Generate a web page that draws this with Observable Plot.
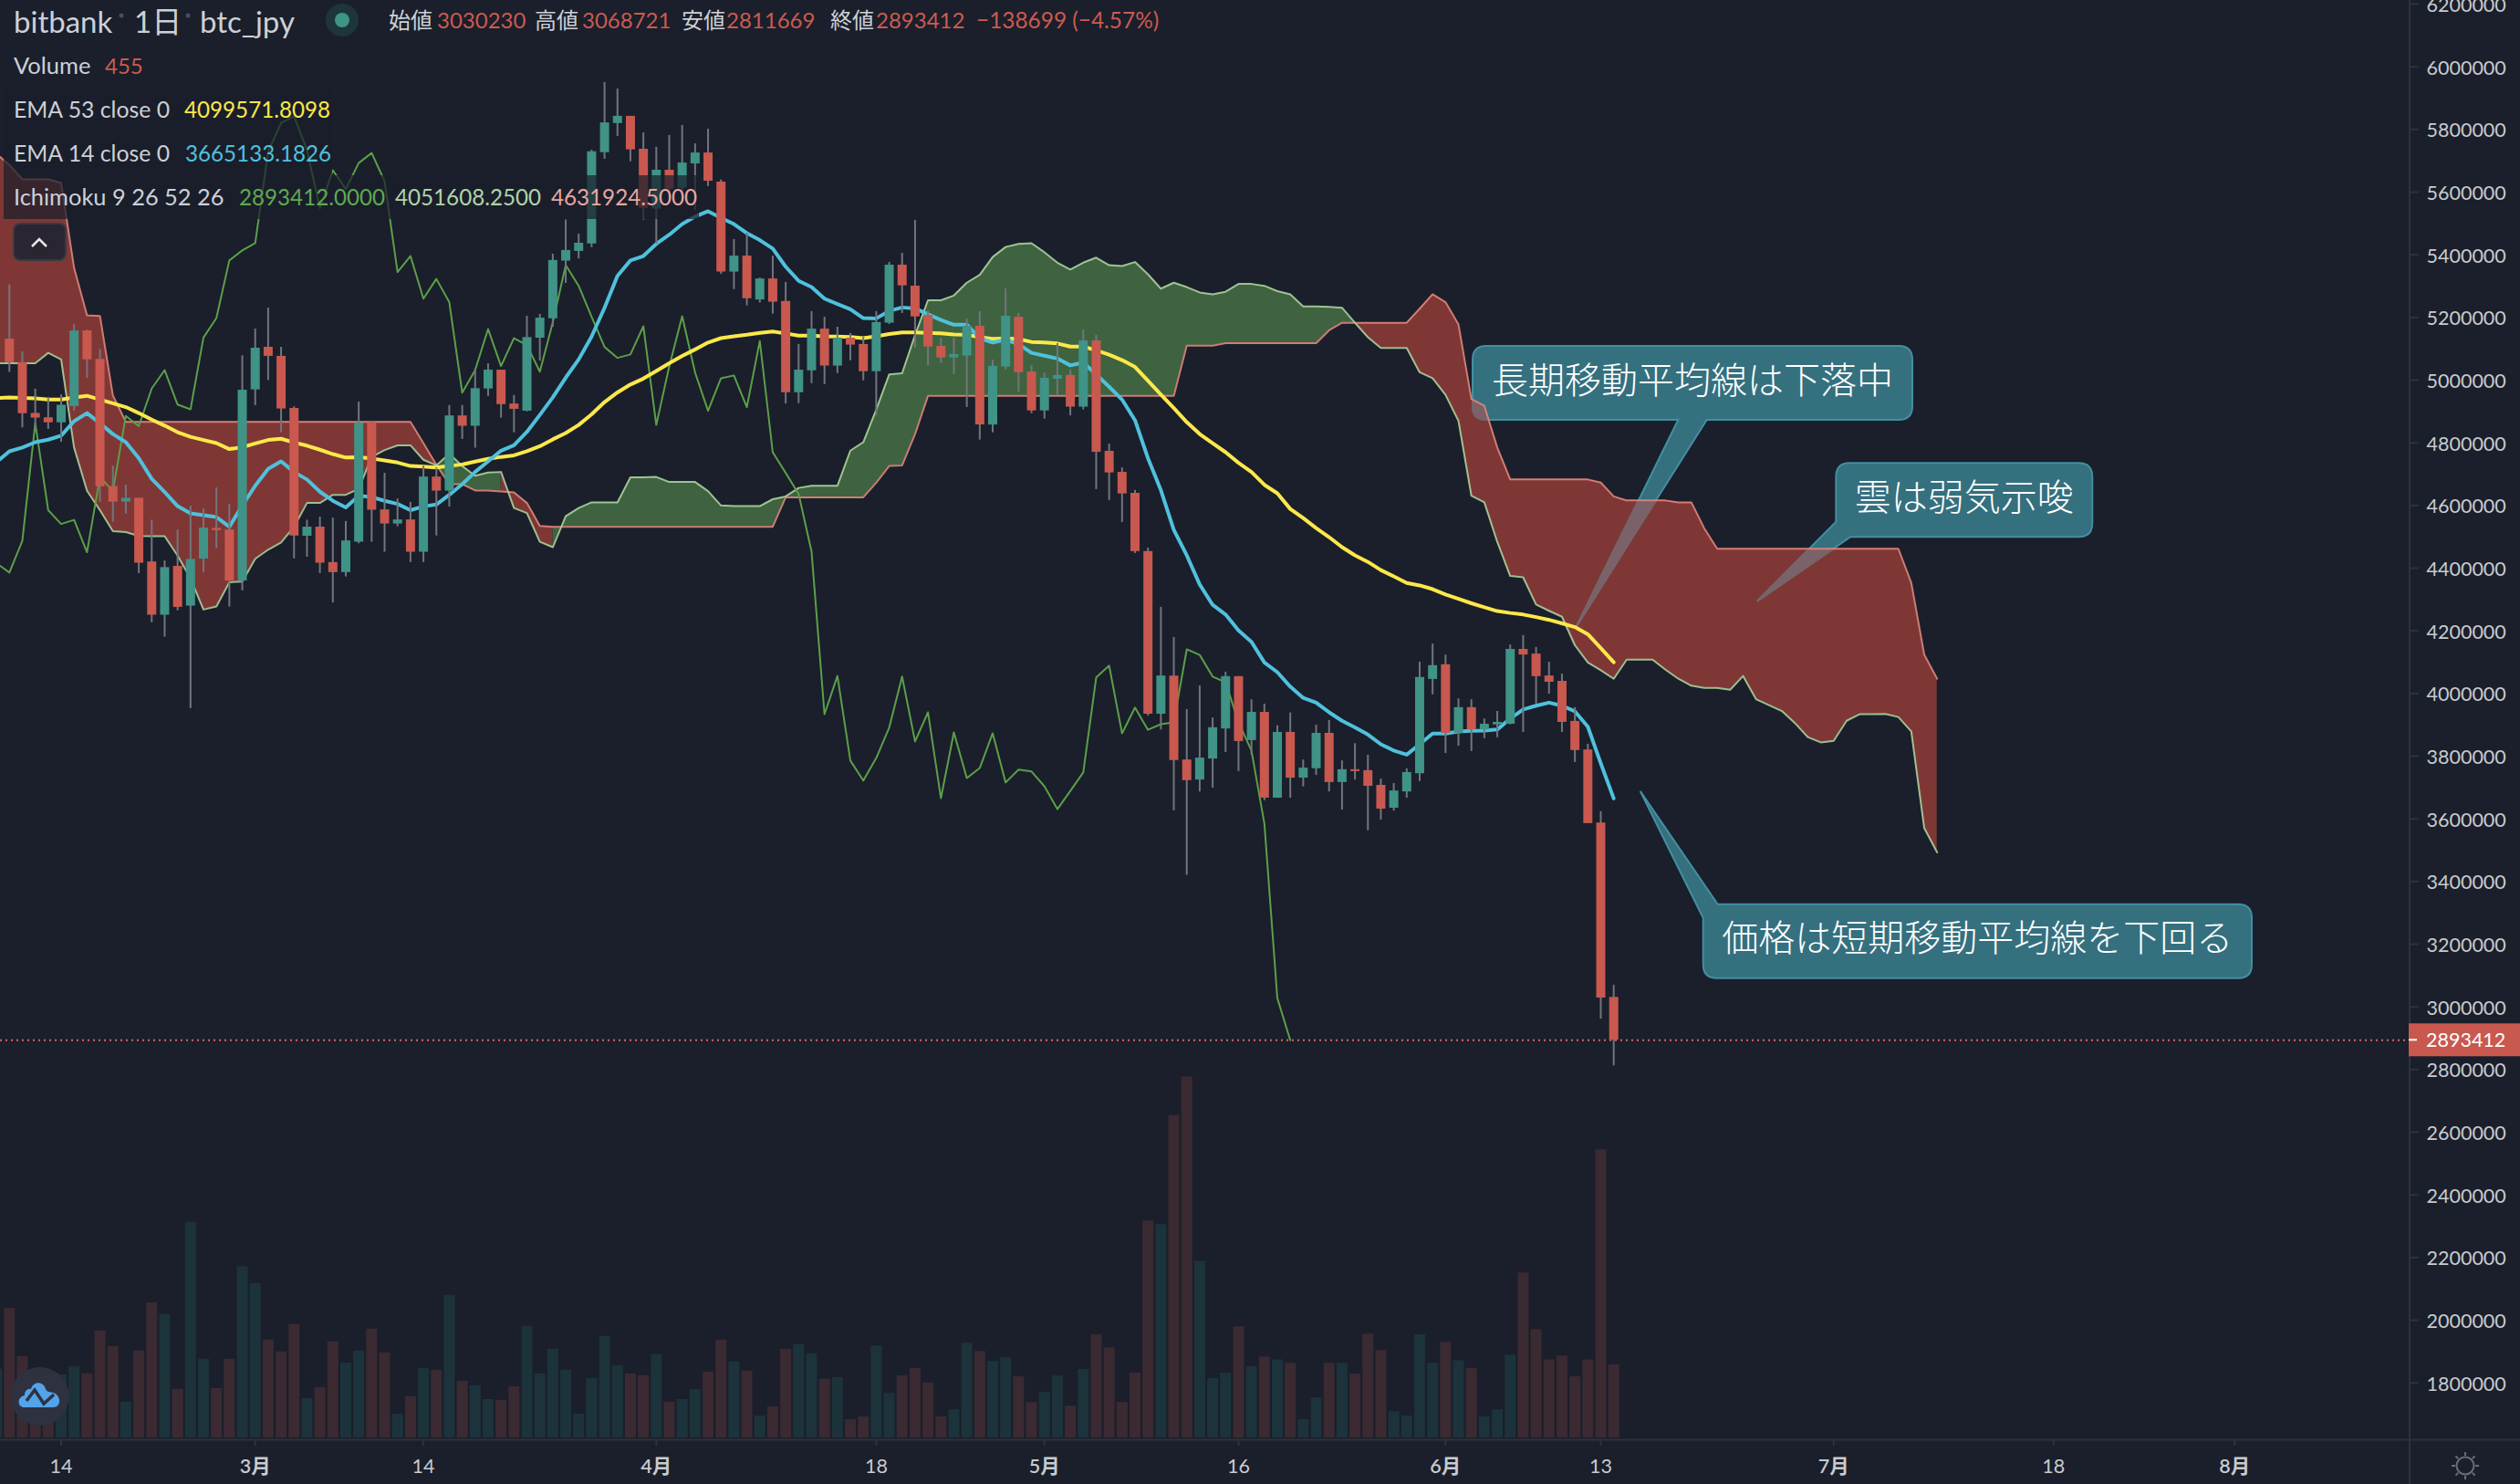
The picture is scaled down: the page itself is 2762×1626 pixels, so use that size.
<!DOCTYPE html>
<html lang="ja">
<head>
<meta charset="utf-8">
<title>bitbank btc_jpy</title>
<script src="https://cdn.jsdelivr.net/npm/d3@7"></script>
<script src="https://cdn.jsdelivr.net/npm/@observablehq/plot@0.6"></script>
<style>
html,body{margin:0;padding:0;background:#1a1f2b;}
#chart{position:relative;width:2762px;height:1626px;overflow:hidden;background:#1a1f2b;font-family:Lato,"Noto Sans CJK JP",sans-serif;}
#chart svg{position:absolute;left:0;top:0;}
.lg{position:absolute;white-space:pre;line-height:1;transform:translateY(-50%);}
.dim{position:absolute;background:rgba(26,31,43,.72);}
</style>
</head>
<body>
<div id="chart"></div>
<script>
// All prices are in thousands of JPY. Daily bars, the first one is 2022-02-10.
const open = [
5131,5056,4894,4880,4864,4916,5157,5066,4661,4611,
4623,4420,4250,4406,4279,4429,4527,4522,4359,4969,
5105,5076,4910,4502,4531,4418,4386,4483,4865,4586,
4541,4554,4451,4691,4646,4886,4853,4972,5032,4924,
4901,5134,5196,5380,5411,5435,5726,5819,5842,5737,
5546,5670,5613,5690,5725,5632,5345,5396,5256,5323,
5251,4960,5030,5163,5045,5134,5114,5027,5182,5367,
5300,5207,5108,5071,5077,5172,4857,5042,5201,5026,
4902,5003,5015,4914,5125,4773,4706,4639,4453,3934,
4056,3788,3724,3791,3887,4054,3850,3940,3666,3876,
3730,3760,3873,3716,3757,3754,3707,3634,3686,3744,
4045,4092,3873,3955,3884,3900,3902,4141,4126,4056,
4039,3911,3820,3587,3030.23];
const high = [
5304,5090,4971,4945,4953,5177,5160,5098,4726,4665,
4623,4553,4423,4522,4598,4589,4656,4604,5078,5163,
5230,5105,4915,4553,4563,4560,4549,4930,4869,4703,
4621,4610,4726,4720,4919,4919,5037,5052,5032,4951,
5204,5210,5402,5511,5466,5734,5950,5929,5842,5789,
5743,5781,5813,5754,5801,5639,5449,5469,5326,5396,
5312,5114,5219,5201,5169,5149,5137,5219,5376,5405,
5510,5221,5134,5134,5195,5219,5064,5291,5213,5047,
5023,5117,5032,5160,5143,4796,4720,4648,4464,4275,
4179,3949,4024,3922,4068,4054,3980,3966,3897,3938,
3788,3899,3914,3785,3840,3803,3727,3713,3760,4100,
4158,4123,3983,3980,3919,3943,4155,4185,4147,4100,
4062,3955,3838,3623,3068.721];
const low = [
5025,4848,4843,4843,4802,4901,5006,4610,4547,4573,
4383,4226,4180,4264,3952,4386,4462,4276,4328,4919,
4999,4832,4430,4435,4383,4289,4372,4478,4483,4451,
4532,4418,4418,4503,4595,4811,4783,4948,4879,4832,
4899,5061,5169,5309,5387,5423,5705,5778,5697,5511,
5435,5585,5591,5542,5618,5338,5289,5237,5246,5211,
4924,4925,4989,4986,5021,5062,4998,4887,5178,5213,
5103,5045,5053,5018,4913,4809,4832,5033,4962,4893,
4876,4951,4886,4905,4651,4616,4546,4447,3928,3884,
3626,3420,3686,3698,3812,3751,3803,3658,3666,3666,
3702,3739,3686,3628,3724,3562,3596,3625,3666,3719,
3996,3809,3832,3815,3856,3859,3900,3876,3966,3998,
3876,3780,3585,2961,2811.669];
const close = [
5056,4893,4879,4864,4920,5157,5065,4660,4611,4623,
4416,4250,4402,4275,4428,4528,4520,4359,4968,5102,
5076,4908,4503,4531,4416,4386,4487,4863,4585,4541,
4554,4451,4691,4646,4886,4853,4973,5032,4922,4907,
5136,5198,5382,5414,5437,5729,5821,5842,5735,5549,
5670,5610,5693,5725,5635,5345,5396,5260,5323,5249,
4960,5032,5163,5045,5134,5112,5027,5184,5367,5301,
5202,5106,5071,5082,5172,4857,5044,5204,5024,4902,
5006,5015,4914,5125,4770,4704,4637,4453,3934,4056,
3786,3722,3794,3891,4054,3847,3940,3666,3876,3730,
3762,3873,3716,3757,3751,3704,3631,3689,3748,4051,
4089,3873,3955,3884,3902,3908,4141,4123,4054,4036,
3908,3818,3585,3028,2893.412];
// The series below start one day earlier, at the left edge of the chart (2022-02-09).
const ema53 = [4943,
4945,4943,4942,4938,4938,4945,4950,4938,4926,4914,
4895,4874,4855,4834,4819,4809,4799,4780,4786,4798,
4809,4813,4801,4791,4778,4764,4753,4754,4750,4744,
4737,4726,4724,4721,4726,4731,4740,4749,4755,4760,
4773,4789,4811,4831,4857,4891,4930,4961,4986,5005,
5029,5054,5077,5098,5120,5134,5140,5145,5151,5155,
5149,5142,5142,5140,5139,5138,5134,5140,5147,5152,
5152,5151,5149,5146,5145,5137,5132,5133,5131,5122,
5120,5117,5107,5107,5095,5081,5064,5042,4998,4954,
4911,4866,4828,4799,4770,4736,4707,4666,4639,4589,
4560,4528,4499,4467,4441,4420,4394,4374,4353,4345,
4333,4316,4302,4288,4275,4263,4257,4252,4244,4235,
4224,4212,4189,4145,4099.57];
const ema14 = [4738,
4773,4785,4802,4810,4823,4869,4895,4862,4828,4802,
4751,4685,4643,4598,4575,4569,4563,4532,4600,4663,
4717,4741,4707,4683,4644,4615,4594,4631,4627,4615,
4605,4585,4597,4603,4634,4668,4707,4741,4775,4792,
4835,4889,4945,5008,5066,5139,5231,5333,5382,5396,
5435,5464,5498,5522,5539,5518,5498,5469,5447,5420,
5362,5317,5297,5260,5243,5226,5198,5197,5221,5232,
5229,5210,5192,5177,5177,5134,5120,5129,5115,5087,
5078,5069,5047,5056,5018,4979,4938,4872,4751,4649,
4522,4441,4348,4283,4252,4201,4165,4099,4068,4022,
3986,3971,3940,3913,3892,3869,3838,3818,3805,3838,
3872,3872,3879,3881,3882,3885,3920,3949,3961,3971,
3961,3943,3894,3777,3665.13];
const lagging = [4416,
4386,4487,4863,4585,4541,4554,4451,4691,4646,4886,
4853,4973,5032,4922,4907,5136,5198,5382,5414,5437,
5729,5821,5842,5735,5549,5670,5610,5693,5725,5635,
5345,5396,5260,5323,5249,4960,5032,5163,5045,5134,
5112,5027,5184,5367,5301,5202,5106,5071,5082,5172,
4857,5044,5204,5024,4902,5006,5015,4914,5125,4770,
4704,4637,4453,3934,4056,3786,3722,3794,3891,4054,
3847,3940,3666,3876,3730,3762,3873,3716,3757,3751,
3704,3631,3689,3748,4051,4089,3873,3955,3884,3902,
3908,4141,4123,4054,4036,3908,3818,3585,3028,2893.412];
const spanA = [5054,
5054,5054,5054,5087,5066,4785,4647,4585,4518,4515,
4503,4502,4502,4440,4367,4268,4278,4355,4357,4430,
4459,4482,4532,4608,4608,4634,4634,4653,4755,4777,
4792,4792,4746,4728,4765,4726,4695,4705,4707,4592,
4576,4484,4467,4566,4592,4610,4610,4610,4690,4690,
4691,4675,4675,4675,4646,4600,4598,4598,4598,4620,
4629,4656,4663,4663,4663,4775,4802,4906,5018,5022,
5144,5255,5255,5270,5311,5336,5393,5425,5435,5437,
5408,5375,5353,5375,5391,5367,5364,5377,5338,5292,
5311,5297,5280,5274,5282,5307,5307,5301,5284,5274,
5235,5235,5234,5231,5183,5137,5103,5103,5103,5025,
5006,4953,4870,4631,4610,4484,4375,4371,4284,4264,
4245,4154,4099,4074,4047,4108,4108,4108,4076,4047,
4025,4018,4018,4012,4056,3982,3963,3944,3906,3861,
3844,3849,3913,3934,3934,3935,3925,3879,3571,3493];
const spanB = [5722,
5687,5641,5641,5641,5629,5358,5207,5205,4951,4867,
4867,4867,4867,4867,4867,4867,4867,4867,4867,4867,
4867,4867,4867,4867,4867,4867,4867,4867,4867,4867,
4867,4867,4799,4730,4668,4668,4648,4648,4645,4642,
4608,4535,4532,4532,4532,4532,4532,4532,4532,4532,
4532,4532,4532,4532,4532,4532,4532,4532,4532,4532,
4626,4626,4626,4626,4626,4626,4626,4673,4726,4728,
4828,4950,4950,4950,4950,4950,4950,4950,4950,4950,
4950,4950,4950,4950,4950,4950,4950,4950,4950,4950,
4950,5110,5110,5110,5118,5118,5118,5118,5118,5118,
5118,5118,5159,5183,5183,5183,5183,5183,5183,5228,
5274,5249,5178,4940,4918,4785,4683,4683,4683,4683,
4683,4683,4683,4673,4629,4616,4616,4616,4616,4610,
4610,4527,4462,4462,4462,4462,4462,4462,4462,4462,
4462,4462,4462,4462,4462,4462,4462,4353,4124,4047];
const volume = [428,
808,507,266,266,393,445,399,667,570,222,
542,842,770,302,1343,490,308,490,1066,963,
610,536,707,245,314,599,467,542,678,530,
148,257,433,422,889,353,325,239,234,319,
695,399,553,422,148,370,633,450,399,388,
519,222,239,302,410,610,473,416,137,194,
553,581,524,365,375,114,131,573,278,387,
432,341,131,175,590,539,476,499,381,221,
284,387,198,426,642,562,221,404,1352,1329,
2009,2249,1101,369,404,693,444,505,487,465,
114,249,465,465,398,647,545,164,137,642,
465,596,482,432,131,175,516,1028,676,487,
510,381,487,1794,455];
const priceTicks = [1800,2000,2200,2400,2600,2800,3000,3200,3400,3600,3800,4000,4200,4400,4600,4800,5000,5200,5400,5600,5800,6000,6200];
const dayTicks = ["2022-02-14","2022-03-14","2022-04-18","2022-05-16","2022-06-13","2022-07-18"];
const monthTicks = ["2022-03-01","2022-04-01","2022-05-01","2022-06-01","2022-07-01","2022-08-01"];
const lastPrice = 2893.412;
const lastPriceLabel = "2893412";
const callouts = [
  {text:"長期移動平均線は下落中", tipDate:"2022-06-11T04:00Z", tipPrice:4214},
  {text:"雲は弱気示唆", tipDate:"2022-06-25T03:00Z", tipPrice:4293},
  {text:"価格は短期移動平均線を下回る", tipDate:"2022-06-16T02:00Z", tipPrice:3687}
];

// ---- styles and layout ----
const W = 2762, H = 1626, AXW = 121, AXH = 49;
const BG = "#1a1f2b", UP = "#3f9387", DOWN = "#c9584f", UPV = "#1c333b", DOWNV = "#3b2a32";
const GRID = "#2e323e", TEXT = "#c8cacf";
const FONT = 'Lato,"Noto Sans CJK JP",sans-serif';
const xScale = {type:"utc", domain:[new Date("2022-02-09T07:26Z"), new Date("2022-08-14T13:12Z")], axis:null};
const dayOf = i => new Date(Date.UTC(2022, 1, 10 + i));

const candles = open.map((o,i)=>({date:dayOf(i),o,h:high[i],l:low[i],c:close[i],up:close[i]>=o}));
const vols = volume.map((v,k)=>({date:dayOf(k-1),v,up:k===0||close[k-1]>=open[k-1]}));
const line = arr => arr.map((v,k)=>({date:dayOf(k-1),v}));

// cloud runs: a segment takes the colour of its right end
const cloudPts = [];
let run = 0;
const isUp = k => spanA[k] >= spanB[k];
for (let k=1;k<spanA.length;k++){
  if (k===1 || isUp(k)!==isUp(k-1)) { run++; cloudPts.push({date:dayOf(k-2),a:spanA[k-1],b:spanB[k-1],run,up:isUp(k)}); }
  cloudPts.push({date:dayOf(k-1),a:spanA[k],b:spanB[k],run,up:isUp(k)});
}

// layout of the three callouts: box and the way the pointer leaves it
const boxes = [
  {l:1614,t:379,r:2096,b:460,kind:"bottom",p1:1870.7,p2:1839.3},
  {l:2012.3,t:507.3,r:2293.3,b:588.3,kind:"bl",p1:2028.3,p2:571.7},
  {l:1866.7,t:990.7,r:2468,b:1071.7,kind:"tl",p1:1882.7,p2:1005.7}
];
const R = 15;
function bubble(b,tx,ty){
  const {l,t,r,b:bt}=b;
  const top = b.kind==="tl" ? `M${b.p1},${t}` : `M${l+R},${t}`;
  const rightSide = `H${r-R}Q${r},${t} ${r},${t+R}V${bt-R}Q${r},${bt} ${r-R},${bt}`;
  if (b.kind==="bottom") return `${top}${rightSide}H${b.p1}L${tx},${ty}L${b.p2},${bt}H${l+R}Q${l},${bt} ${l},${bt-R}V${t+R}Q${l},${t} ${l+R},${t}Z`;
  if (b.kind==="bl") return `${top}${rightSide}H${b.p1}L${tx},${ty}L${l},${b.p2}V${t+R}Q${l},${t} ${l+R},${t}Z`;
  return `${top}${rightSide}H${l+R}Q${l},${bt} ${l},${bt-R}V${b.p2}L${tx},${ty}Z`;
}
function calloutMark(index,{x,y}){
  const g = d3.create("svg:g");
  // outline of the cloud on the future side, used for the tint where a bubble lies over it
  const idx = d3.range(100,spanA.length);
  const upper = idx.map(k=>[x(dayOf(k-1)),y(Math.max(spanA[k],spanB[k]))]);
  const lower = idx.map(k=>[x(dayOf(k-1)),y(Math.min(spanA[k],spanB[k]))]).reverse();
  g.append("clipPath").attr("id","cloudclip").append("path").attr("d",d3.line()(upper.concat(lower))+"Z");
  callouts.forEach((c,i)=>{
    const tx=x(new Date(c.tipDate)), ty=y(c.tipPrice), d=bubble(boxes[i],tx,ty);
    g.append("path").attr("d",d).attr("fill","#35707f").attr("stroke","#428fa1").attr("stroke-width",2);
    g.append("path").attr("d",d).attr("fill","#7b6268").attr("stroke","#7b6268").attr("stroke-width",2).attr("clip-path","url(#cloudclip)");
    g.append("text").text(c.text).attr("x",(boxes[i].l+boxes[i].r)/2).attr("y",(boxes[i].t+boxes[i].b)/2-7)
      .attr("text-anchor","middle").attr("dominant-baseline","central").attr("dy","0.03em")
      .attr("fill","#ffffff").attr("font-size",40).attr("font-weight",300)
      .attr("font-family",'"Noto Sans CJK JP",sans-serif');
  });
  return g.node();
}
function frameMark(index,{y}){
  const g = d3.create("svg:g");
  const bottom = H-AXH, ax = W-AXW;
  g.append("line").attr("x1",0).attr("x2",W).attr("y1",bottom+.5).attr("y2",bottom+.5).attr("stroke",GRID).attr("stroke-width",2);
  g.append("line").attr("x1",ax).attr("x2",ax).attr("y1",0).attr("y2",H).attr("stroke",GRID).attr("stroke-width",2);
  const ty = y(lastPrice);
  g.append("rect").attr("x",ax-1).attr("y",ty-18).attr("width",AXW+1).attr("height",36).attr("fill",DOWN);
  g.append("line").attr("x1",ax-1).attr("x2",ax+8).attr("y1",ty).attr("y2",ty).attr("stroke","#ffffff").attr("stroke-width",2);
  g.append("text").text(lastPriceLabel).attr("x",ax+18).attr("y",ty).attr("text-anchor","start").attr("dominant-baseline","central")
    .attr("fill","#ffffff").attr("font-size",21.5).attr("font-family",FONT);
  return g.node();
}

// ---- volume pane, behind the price pane ----
const volumePlot = Plot.plot({
  width:W, height:H, marginTop:0, marginLeft:0, marginRight:AXW, marginBottom:51,
  x:xScale, y:{domain:[0,8958], axis:null},
  style:{background:BG},
  marks:[
    Plot.ruleX(vols,{x:"date",y1:0,y2:"v",stroke:d=>d.up?UPV:DOWNV,strokeWidth:12})
  ]
});

// ---- price pane ----
const pricePlot = Plot.plot({
  width:W, height:H, marginTop:0, marginLeft:0, marginRight:AXW, marginBottom:AXH,
  x:xScale, y:{domain:[1618.6,6211.7], axis:null},
  style:{background:"transparent", fontFamily:FONT},
  marks:[
    Plot.areaY(cloudPts.filter(d=>d.up),{x:"date",y1:"a",y2:"b",z:"run",fill:"#3f6340"}),
    Plot.areaY(cloudPts.filter(d=>!d.up),{x:"date",y1:"a",y2:"b",z:"run",fill:"#7f3735"}),
    calloutMark,
    Plot.lineY(line(spanB),{x:"date",y:"v",stroke:"#e0857c",strokeWidth:2,strokeOpacity:.9}),
    Plot.lineY(line(spanA),{x:"date",y:"v",stroke:"#a9cf9c",strokeWidth:2,strokeOpacity:.9}),
    Plot.lineY(line(lagging),{x:"date",y:"v",stroke:"#5c9f49",strokeWidth:2}),
    Plot.lineY(line(ema53),{x:"date",y:"v",stroke:"#fde84a",strokeWidth:4}),
    Plot.lineY(line(ema14),{x:"date",y:"v",stroke:"#4fc1dc",strokeWidth:4}),
    Plot.ruleY([lastPrice],{stroke:"#d9655a",strokeWidth:2,strokeDasharray:"2 4"}),
    Plot.ruleX(candles,{x:"date",y1:"l",y2:"h",stroke:"#72757c",strokeWidth:2}),
    Plot.ruleX(candles,{x:"date",y1:"o",y2:"c",stroke:d=>d.up?UP:DOWN,strokeWidth:10}),
    // tick marks and labels separately: the labels sit a little lower than the ticks
    Plot.axisY({anchor:"right",ticks:priceTicks,tickFormat:()=>"",tickSize:9,
      stroke:GRID,strokeWidth:2,label:null}),
    Plot.axisY({anchor:"right",ticks:priceTicks,tickFormat:d=>String(d*1000),tickSize:0,tickPadding:18,dy:1.5,
      fill:TEXT,fontSize:21.5,label:null}),
    Plot.axisX({anchor:"bottom",ticks:dayTicks.map(d=>new Date(d)),tickFormat:d=>String(d.getUTCDate()),
      tickSize:7,tickPadding:14,stroke:GRID,strokeWidth:2,fill:TEXT,fontSize:21.5,label:null}),
    Plot.axisX({anchor:"bottom",ticks:monthTicks.map(d=>new Date(d)),tickFormat:d=>(d.getUTCMonth()+1)+"月",
      tickSize:7,tickPadding:14,stroke:GRID,strokeWidth:2,fill:TEXT,fontSize:21.5,fontWeight:600,label:null}),
    frameMark
  ]
});

const chart = document.getElementById("chart");
chart.append(volumePlot, pricePlot);

// ---- legend overlay ----
[[4,96,360,48],[4,144,360,48],[4,192,762,48]].forEach(([l,t,w,h])=>{
  const d=document.createElement("div"); d.className="dim";
  d.style.cssText=`left:${l}px;top:${t}px;width:${w}px;height:${h}px`; chart.append(d);
});
const LABEL="#cdd0d6", RED="#cc5a50";
const legend = [
  ["bitbank",15,23,LABEL,33],["1日",147,23,LABEL,33],["btc_jpy",219,23,LABEL,33],
  ["始値",426,22,LABEL,24],["3030230",479,22,RED,24],
  ["高値",586,22,LABEL,24],["3068721",638,22,RED,24],
  ["安値",747,22,LABEL,24],["2811669",796,22,RED,24],
  ["終値",910,22,LABEL,24],["2893412",960,22,RED,24],
  ["−138699 (−4.57%)",1070,22,RED,24.4],
  ["Volume",15,72,LABEL,25.5],["455",115,72,RED,24],
  ["EMA 53 close 0",15,120,LABEL,24.8],["4099571.8098",202,120,"#fde84a",24.2],
  ["EMA 14 close 0",15,168,LABEL,24.8],["3665133.1826",203,168,"#4fc1dc",24.2],
  ["Ichimoku 9 26 52 26",15,216,LABEL,25.4],["2893412.0000",262,216,"#5ea94f",24.2],
  ["4051608.2500",433,216,"#aed5a8",24.2],["4631924.5000",604,216,"#e8a7a0",24.2]
];
legend.forEach(([t,x,y,c,s])=>{
  const d=document.createElement("div"); d.className="lg"; d.textContent=t;
  d.style.cssText=`left:${x}px;top:${y}px;color:${c};font-size:${s}px`; chart.append(d);
});

// ---- small chrome icons ----
const deco = d3.select(chart).append("svg").attr("width",W).attr("height",H).style("pointer-events","none");
[133,206].forEach(cx=>deco.append("circle").attr("cx",cx).attr("cy",17).attr("r",2.5).attr("fill","#4a4e5a"));
deco.append("circle").attr("cx",375).attr("cy",22).attr("r",18).attr("fill","#1e363b");
deco.append("circle").attr("cx",375).attr("cy",22).attr("r",8).attr("fill","#3f9387");
deco.append("rect").attr("x",15).attr("y",245).attr("width",57).attr("height",40).attr("rx",7).attr("fill","#2a2631").attr("stroke","#363a46").attr("stroke-width",2);
deco.append("path").attr("d","M35,270L43,262L51,270").attr("fill","none").attr("stroke","#e6e7ea").attr("stroke-width",2.5);
deco.append("circle").attr("cx",43.7).attr("cy",1530).attr("r",32).attr("fill","#2e3240");
deco.append("path").attr("d","M27,1542C18,1542 19,1530 27,1529C27,1522 32,1521 34,1522C36,1513 48,1513 50,1522C52,1526 56,1525 58,1526C67,1528 68,1542 58,1542Z").attr("fill","#52a3ea");
deco.append("path").attr("d","M29,1535L38,1523L48,1538L59,1528").attr("fill","none").attr("stroke","#2e3240").attr("stroke-width",3.5);
const sx=2702, sy=1606;
deco.append("circle").attr("cx",sx).attr("cy",sy).attr("r",9.5).attr("fill","none").attr("stroke","#6a6d78").attr("stroke-width",2);
d3.range(8).forEach(k=>{const a=k*Math.PI/4;
  deco.append("line").attr("x1",sx+11*Math.cos(a)).attr("y1",sy+11*Math.sin(a)).attr("x2",sx+15*Math.cos(a)).attr("y2",sy+15*Math.sin(a)).attr("stroke","#6a6d78").attr("stroke-width",2);});
</script>
</body>
</html>
